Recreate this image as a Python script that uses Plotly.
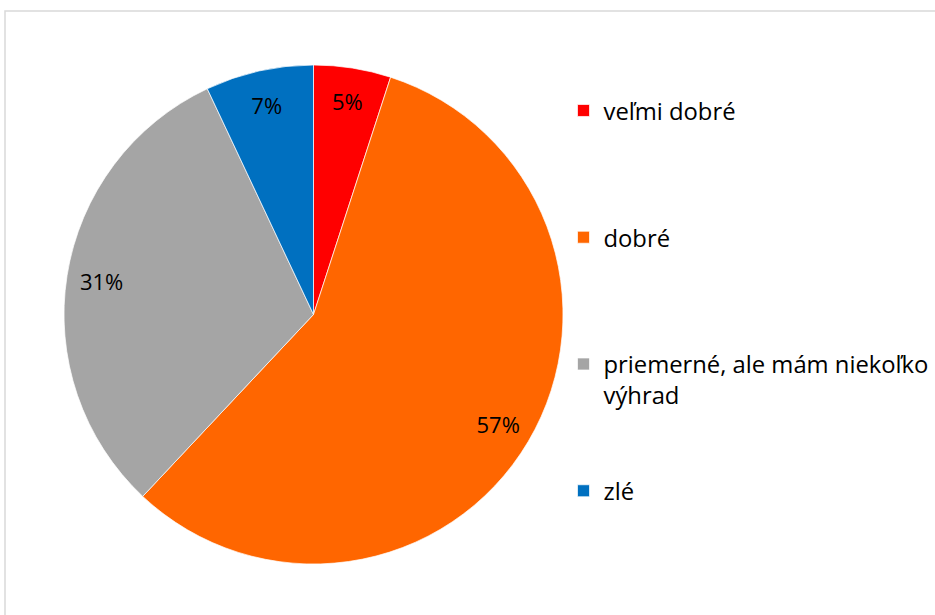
import plotly.graph_objects as go

# data
categories = ["veľmi dobré", "dobré", "priemerné, ale mám niekoľko<br>výhrad", "zlé"]
values = [5, 57, 31, 7]
colors = ["#FF0000", "#FF6600", "#A5A5A5", "#0070C0"]

W, H = 935, 615

# legend entries padded with blank lines so every entry takes the same height
LINES = 4
legend_labels = [c + "<br> " * (LINES - 1 - c.count("<br>")) for c in categories]


def px_x(x):
    return x / W


def px_y(y):
    return 1 - y / H


dom = dict(x=[px_x(64), px_x(563)], y=[px_y(564), px_y(65)])

fig = go.Figure()

# the slices
fig.add_trace(go.Pie(labels=legend_labels, values=values, sort=False,
                     direction="clockwise", rotation=0,
                     marker=dict(colors=colors, line=dict(color="white", width=0.7)),
                     textinfo="none", hoverinfo="skip", domain=dom))

# transparent ring on top, only to carry the percent labels near the rim
fig.add_trace(go.Pie(labels=legend_labels, values=values, sort=False,
                     direction="clockwise", rotation=0, hole=0.72,
                     marker=dict(colors=["rgba(0,0,0,0)"] * len(values), line=dict(width=0)),
                     texttemplate="%{percent:.0%}", textposition="inside",
                     insidetextorientation="horizontal",
                     textfont=dict(family="Open Sans", size=22, color="black"),
                     showlegend=False, domain=dom))

fig.update_layout(
    width=W, height=H,
    margin=dict(l=0, r=0, t=0, b=0),
    paper_bgcolor="white",
    showlegend=True,
    legend=dict(x=px_x(563.5), xanchor="left", y=px_y(88.5), yanchor="top",
                valign="top",
                font=dict(family="Open Sans", size=23.8, color="black"),
                bgcolor="rgba(0,0,0,0)"),
    shapes=[dict(type="rect", xref="paper", yref="paper",
                 x0=px_x(5), x1=1.05, y0=-0.05, y1=px_y(11),
                 line=dict(color="#D9D9D9", width=1.5))],
)

# drop the default page margin so the figure sits in the corner
fig.write_html("out.html", config={"displayModeBar": False},
               post_script="document.body.style.margin='0';")
